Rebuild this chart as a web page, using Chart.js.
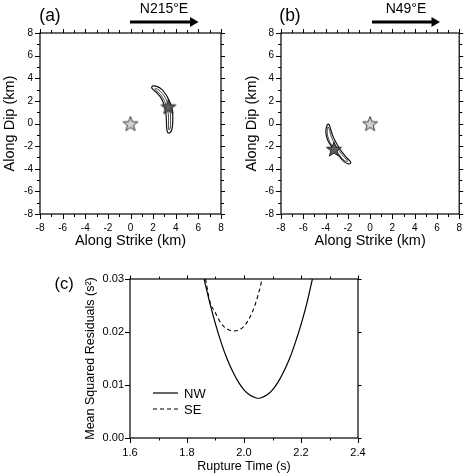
<!DOCTYPE html>
<html>
<head>
<meta charset="utf-8">
<script src="https://cdn.jsdelivr.net/npm/chart.js@4.4.1/dist/chart.umd.min.js"></script>
<style>
  html, body { margin: 0; padding: 0; background: #fff; }
  #wrap { position: relative; width: 470px; height: 476px; overflow: hidden; }
  canvas { position: absolute; }
</style>
</head>
<body>
<div id="wrap">
  <canvas id="chartA" width="235" height="256" style="left:0;top:0"></canvas>
  <canvas id="chartB" width="235" height="256" style="left:235px;top:0"></canvas>
  <canvas id="chartC" width="470" height="226" style="left:0;top:250px"></canvas>
</div>
<script>
// ---------- data ----------
// panel (a) : N215°E
const hypoA_x = [0], hypoA_y = [0];
const centA_x = [3.35], centA_y = [1.5];
const outerA_x = [1.95, 2.32, 2.76, 3.14, 3.44, 3.65, 3.73, 3.73, 3.65, 3.50, 3.29, 3.20, 3.17, 3.11, 2.96, 2.70, 2.32, 1.87, 1.95];
const outerA_y = [3.33, 3.28, 3.02, 2.55, 1.96, 1.37, 0.78, 0.04, -0.55, -0.80, -0.80, -0.40, 0.34, 1.07, 1.66, 2.26, 2.72, 3.15, 3.33];
const innerA_x = [2.22, 2.62, 2.98, 3.28, 3.47, 3.54, 3.54, 3.49, 3.42, 3.37, 3.36, 3.36, 3.29, 3.10, 2.84, 2.48, 2.16, 2.22];
const innerA_y = [3.12, 2.86, 2.43, 1.85, 1.22, 0.56, -0.10, -0.50, -0.58, -0.48, -0.10, 0.56, 1.18, 1.75, 2.30, 2.74, 3.02, 3.12];

// panel (b) : N49°E
const hypoB_x = [0], hypoB_y = [0];
const centB_x = [-3.25], centB_y = [-2.25];
const outerB_x = [-3.83, -3.97, -3.92, -3.68, -3.24, -2.80, -2.37, -1.99, -1.75, -1.78, -2.08, -2.57, -2.95, -3.33, -3.53, -3.68, -3.83];
const outerB_y = [-0.05, -0.55, -1.14, -1.73, -2.32, -2.85, -3.35, -3.56, -3.50, -3.35, -3.05, -2.47, -1.88, -1.14, -0.55, -0.10, -0.05];
const innerB_x = [-3.78, -3.85, -3.80, -3.58, -3.18, -2.76, -2.35, -2.05, -2.10, -2.55, -2.95, -3.35, -3.55, -3.66, -3.78];
const innerB_y = [-0.30, -0.62, -1.14, -1.70, -2.27, -2.78, -3.24, -3.38, -3.22, -2.72, -2.18, -1.50, -0.95, -0.50, -0.30];

// panel (c) : misfit vs rupture time
const timeNW = [1.86, 1.88, 1.90, 1.92, 1.94, 1.96, 1.98, 2.00, 2.02, 2.04, 2.05, 2.06, 2.08, 2.10, 2.12, 2.14, 2.16, 2.18, 2.20, 2.22, 2.24];
const resNW = [0.0300, 0.0255, 0.0215, 0.0180, 0.0150, 0.0126, 0.0106, 0.0091, 0.0081, 0.0076, 0.0075, 0.0076, 0.0081, 0.0091, 0.0106, 0.0126, 0.0150, 0.0180, 0.0214, 0.0253, 0.0300];
const timeSE = [1.865, 1.88, 1.90, 1.92, 1.94, 1.96, 1.98, 2.00, 2.02, 2.04, 2.06, 2.063];
const resSE = [0.0300, 0.0258, 0.0236, 0.0216, 0.0206, 0.0202, 0.0203, 0.0211, 0.0227, 0.0253, 0.0292, 0.0300];

const seriesNames = ['NW', 'SE'];

// ---------- helpers ----------
const FONT = "'Liberation Sans', Arial, Helvetica, sans-serif";
Chart.defaults.font.family = FONT;
Chart.defaults.color = '#000';

function pts(xs, ys) {
    return xs.map((v, i) => ({ x: v, y: ys[i] }));
}

// filled five point star used as point style
function starImage(R, fill, stroke) {
    const c = document.createElement('canvas');
    const s = Math.ceil(R * 2 + 4);
    c.width = s; c.height = s;
    const g = c.getContext('2d');
    g.translate(s / 2, s / 2 + R * 0.1);
    g.beginPath();
    for (let i = 0; i < 10; i++) {
        const r = i % 2 ? R * 0.42 : R;
        const ang = -Math.PI / 2 + i * Math.PI / 5;
        g.lineTo(r * Math.cos(ang), r * Math.sin(ang));
    }
    g.closePath();
    g.fillStyle = fill; g.fill();
    g.lineWidth = 1; g.strokeStyle = stroke; g.stroke();
    return c;
}
const lightStar = starImage(7.8, '#d2d2d2', '#3a3a3a');
const darkStar = starImage(7.8, '#5c5c5c', '#222');

// frame + ticks on all four sides (GMT style)
const framePlugin = {
    id: 'frame',
    afterDraw(chart, args, opts) {
        const { ctx, chartArea: a } = chart;
        const sx = chart.scales.x, sy = chart.scales.y;
        ctx.save();
        ctx.strokeStyle = '#000';
        ctx.lineWidth = 1.2;
        ctx.strokeRect(a.left, a.top, a.right - a.left, a.bottom - a.top);
        ctx.lineWidth = 1;
        const xs = sx.ticks.map(t => t.value), ys = sy.ticks.map(t => t.value);
        const mids = v => v.slice(1).map((t, i) => (t + v[i]) / 2);
        const draw = (vals, scale, len, horiz) => {
            vals.forEach(v => {
                const p = Math.round(scale.getPixelForValue(v)) + 0.5;
                ctx.beginPath();
                if (horiz) {
                    ctx.moveTo(p, a.bottom); ctx.lineTo(p, a.bottom + len.bottom);
                    ctx.moveTo(p, a.top); ctx.lineTo(p, a.top - len.top);
                } else {
                    ctx.moveTo(a.left, p); ctx.lineTo(a.left - len.bottom, p);
                    ctx.moveTo(a.right, p); ctx.lineTo(a.right + len.top, p);
                }
                ctx.stroke();
            });
        };
        draw(xs, sx, { bottom: opts.major, top: opts.minor + 1 }, true);
        draw(ys, sy, { bottom: opts.major, top: opts.minor + 1 }, false);
        if (opts.xMinor) draw(mids(xs), sx, { bottom: opts.minor, top: opts.minor }, true);
        if (opts.yMinor) draw(mids(ys), sy, { bottom: opts.minor, top: opts.minor }, false);
        ctx.restore();
    }
};

// panel labels, direction arrows, inline legend
const notesPlugin = {
    id: 'notes',
    afterDraw(chart, args, opts) {
        const ctx = chart.ctx;
        ctx.save();
        ctx.fillStyle = '#000';
        ctx.strokeStyle = '#000';
        (opts.texts || []).forEach(t => {
            ctx.font = t.size + 'px ' + FONT;
            ctx.textAlign = t.align || 'center';
            ctx.textBaseline = 'alphabetic';
            ctx.fillText(t.text, t.x, t.y);
        });
        (opts.arrows || []).forEach(ar => {
            ctx.lineWidth = 3;
            ctx.beginPath();
            ctx.moveTo(ar.x1, ar.y); ctx.lineTo(ar.x2 - 8, ar.y);
            ctx.stroke();
            ctx.beginPath();
            ctx.moveTo(ar.x2, ar.y);
            ctx.lineTo(ar.x2 - 8.5, ar.y - 5);
            ctx.lineTo(ar.x2 - 8.5, ar.y + 5);
            ctx.closePath();
            ctx.fill();
        });
        if (opts.legend) {
            const L = opts.legend;
            chart.data.datasets.forEach((ds, i) => {
                const y = L.y + i * L.gap;
                ctx.lineWidth = ds.borderWidth;
                ctx.setLineDash(ds.borderDash || []);
                ctx.beginPath();
                ctx.moveTo(L.x, y); ctx.lineTo(L.x + L.len, y);
                ctx.stroke();
                ctx.setLineDash([]);
                ctx.font = L.size + 'px ' + FONT;
                ctx.textAlign = 'left';
                ctx.textBaseline = 'middle';
                ctx.fillText(ds.label, L.x + L.len + 6, y + 1);
            });
        }
        ctx.restore();
    }
};

function mapPanel(id, d, notes, leftW, padRight, dipTitlePad) {
    return new Chart(document.getElementById(id), {
        type: 'scatter',
        data: {
            datasets: [
                { data: pts(d.cx, d.cy), pointStyle: darkStar, showLine: false },
                { data: pts(d.hx, d.hy), pointStyle: lightStar, showLine: false },
                { data: pts(d.ox, d.oy), showLine: true, borderColor: '#111', borderWidth: 1.2, pointRadius: 0, tension: 0.35, fill: false },
                { data: pts(d.ix, d.iy), showLine: true, borderColor: '#333', borderWidth: 0.9, pointRadius: 0, tension: 0.35, fill: false }
            ]
        },
        options: {
            responsive: false,
            animation: false,
            events: [],
            layout: { padding: { top: 33, right: padRight, left: 0, bottom: 0 } },
            scales: {
                x: {
                    type: 'linear', min: -8, max: 8,
                    ticks: { stepSize: 2, padding: 8, font: { size: 10 }, color: '#000', maxRotation: 0, autoSkip: false },
                    grid: { display: false, drawTicks: false },
                    border: { display: false },
                    title: { display: true, text: 'Along Strike (km)', font: { size: 14.5 }, color: '#000', padding: { top: 0, bottom: 6.3 } },
                    afterFit(s) { s.height = 42; }
                },
                y: {
                    type: 'linear', min: -8, max: 8,
                    ticks: { stepSize: 2, padding: 7, font: { size: 10 }, color: '#000', autoSkip: false },
                    grid: { display: false, drawTicks: false },
                    border: { display: false },
                    title: { display: true, text: 'Along Dip (km)', font: { size: 14.5 }, color: '#000', padding: { top: dipTitlePad, bottom: 0 } },
                    afterFit(s) { s.width = leftW; }
                }
            },
            plugins: {
                legend: { display: false },
                tooltip: { enabled: false },
                frame: { major: 5, minor: 3, xMinor: true, yMinor: true },
                notes: notes
            }
        },
        plugins: [framePlugin, notesPlugin]
    });
}

mapPanel('chartA',
    { hx: hypoA_x, hy: hypoA_y, cx: centA_x, cy: centA_y, ox: outerA_x, oy: outerA_y, ix: innerA_x, iy: innerA_y },
    {
        texts: [
            { text: '(a)', x: 50, y: 21, size: 17.5 },
            { text: 'N215°E', x: 164, y: 13.3, size: 14 }
        ],
        arrows: [{ x1: 130, x2: 198.5, y: 22 }]
    }, 40, 14, 1.3);

mapPanel('chartB',
    { hx: hypoB_x, hy: hypoB_y, cx: centB_x, cy: centB_y, ox: outerB_x, oy: outerB_y, ix: innerB_x, iy: innerB_y },
    {
        texts: [
            { text: '(b)', x: 55, y: 21, size: 17.5 },
            { text: 'N49°E', x: 171, y: 13.3, size: 14 }
        ],
        arrows: [{ x1: 137, x2: 205, y: 22 }]
    }, 46, 7, 8.3);

new Chart(document.getElementById('chartC'), {
    type: 'scatter',
    data: {
        datasets: [
            { label: seriesNames[0], data: pts(timeNW, resNW), showLine: true, borderColor: '#000', borderWidth: 1.2, pointRadius: 0, cubicInterpolationMode: 'monotone' },
            { label: seriesNames[1], data: pts(timeSE, resSE), showLine: true, borderColor: '#000', borderWidth: 1.1, borderDash: [4, 3], pointRadius: 0, cubicInterpolationMode: 'monotone' }
        ]
    },
    options: {
        responsive: false,
        animation: false,
        events: [],
        layout: { padding: { top: 29, right: 112, left: 0, bottom: 0 } },
        scales: {
            x: {
                type: 'linear', min: 1.6, max: 2.4,
                ticks: { stepSize: 0.2, padding: 8, font: { size: 11 }, color: '#000', maxRotation: 0, autoSkip: false, callback: v => v.toFixed(1) },
                grid: { display: false, drawTicks: false },
                border: { display: false },
                title: { display: true, text: 'Rupture Time (s)', font: { size: 12.5 }, color: '#000', padding: { top: 0, bottom: 1.5 } },
                afterFit(s) { s.height = 38; }
            },
            y: {
                type: 'linear', min: 0, max: 0.03,
                ticks: { stepSize: 0.01, padding: 6, font: { size: 11 }, color: '#000', autoSkip: false, callback: v => v.toFixed(2) },
                grid: { display: false, drawTicks: false },
                border: { display: false },
                title: { display: true, text: 'Mean Squared Residuals (s²)', font: { size: 12.5 }, color: '#000', padding: { top: 83.5, bottom: 0 } },
                afterFit(s) { s.width = 130; }
            }
        },
        plugins: {
            legend: { display: false },
            tooltip: { enabled: false },
            frame: { major: 5, minor: 2.5, xMinor: true, yMinor: false },
            notes: {
                texts: [{ text: '(c)', x: 64, y: 39, size: 16.5 }],
                legend: { x: 153, y: 143, gap: 16, len: 25, size: 13 }
            }
        }
    },
    plugins: [framePlugin, notesPlugin]
});
</script>
</body>
</html>
